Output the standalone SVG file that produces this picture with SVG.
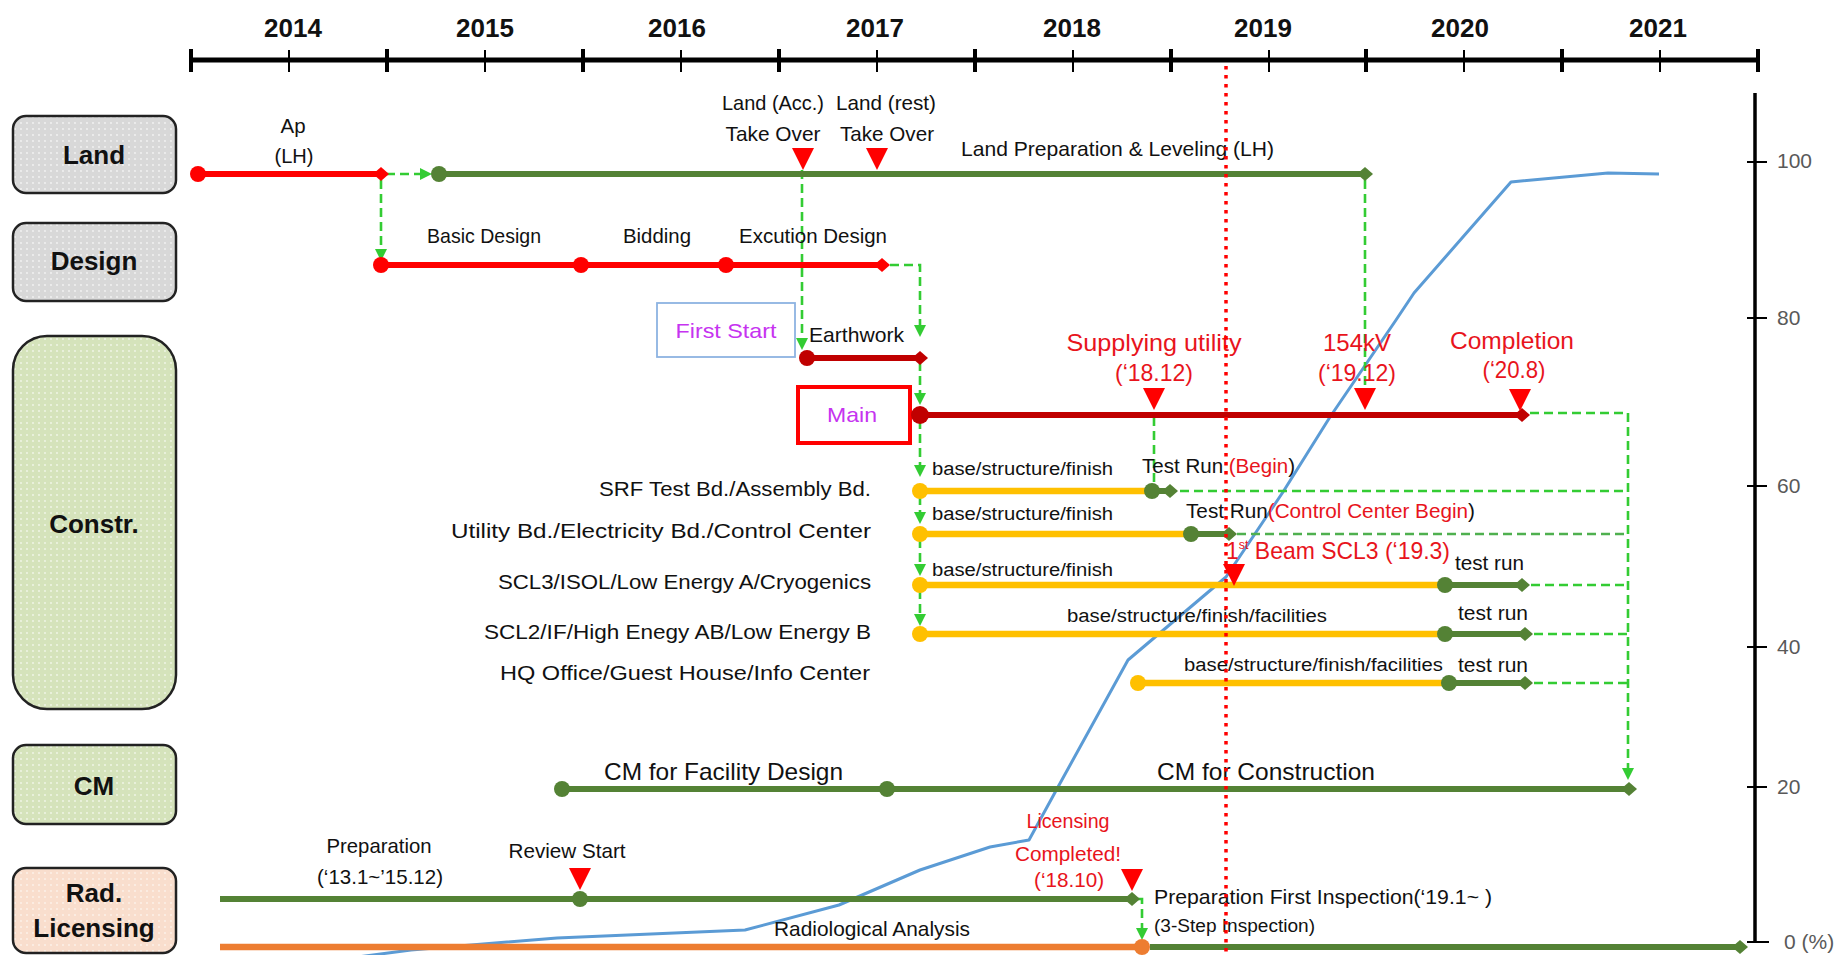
<svg xmlns="http://www.w3.org/2000/svg" width="1837" height="955" viewBox="0 0 1837 955">
<style>
text{font-family:"Liberation Sans",Arial,sans-serif;fill:#111}
.yr{font-size:26px;font-weight:bold;text-anchor:middle}
.cat{font-size:26px;font-weight:bold;text-anchor:middle}
.t{font-size:21px}
.s{font-size:18px}
.mid{text-anchor:middle}
.end{text-anchor:end}
.red{fill:#e8141c}
.mag{fill:#c633f0}
.ax{font-size:21px;fill:#595959}
.box{stroke:#222;stroke-width:2.5}
.dash{fill:none;stroke:#33cc33;stroke-width:2.6;stroke-dasharray:9 5}
.ah{fill:#33cc33}
.lr{stroke:#ff0000;stroke-width:6}
.ldr{stroke:#c00000;stroke-width:6}
.lg{stroke:#548235;stroke-width:6}
.ly{stroke:#ffc000;stroke-width:6.5}
.lo{stroke:#ed7d31;stroke-width:6.5}
.tri{fill:#ff0000}
</style>
<defs>
<pattern id="pGray" width="6" height="6" patternUnits="userSpaceOnUse"><rect width="6" height="6" fill="#d8d8d8"/><circle cx="3" cy="3" r="0.9" fill="#f4f4f4"/></pattern>
<pattern id="pGreen" width="6" height="6" patternUnits="userSpaceOnUse"><rect width="6" height="6" fill="#d5e3bb"/><circle cx="3" cy="3" r="0.9" fill="#f2f7ea"/></pattern>
<pattern id="pPeach" width="6" height="6" patternUnits="userSpaceOnUse"><rect width="6" height="6" fill="#f9decd"/><circle cx="3" cy="3" r="0.9" fill="#fdf3ec"/></pattern>
<polygon id="dia" points="-8,0 0,-7 8,0 0,7"/>
<polygon id="arrD" points="-6,-12 6,-12 0,0"/>
<polygon id="arrR" points="-12,-6 -12,6 0,0"/>
<polygon id="triD" points="-11,0 11,0 0,22"/>
</defs>
<rect width="1837" height="955" fill="#fff"/>

<!-- time axis -->
<g id="timeaxis" stroke="#000">
<line x1="191" y1="60" x2="1758" y2="60" stroke-width="5"/>
<g stroke-width="4">
<line x1="191" y1="49" x2="191" y2="72"/><line x1="387" y1="49" x2="387" y2="72"/><line x1="583" y1="49" x2="583" y2="72"/><line x1="779" y1="49" x2="779" y2="72"/><line x1="975" y1="49" x2="975" y2="72"/><line x1="1171" y1="49" x2="1171" y2="72"/><line x1="1366" y1="49" x2="1366" y2="72"/><line x1="1562" y1="49" x2="1562" y2="72"/><line x1="1758" y1="49" x2="1758" y2="72"/>
</g>
<g stroke-width="2">
<line x1="289" y1="50" x2="289" y2="72"/><line x1="485" y1="50" x2="485" y2="72"/><line x1="681" y1="50" x2="681" y2="72"/><line x1="877" y1="50" x2="877" y2="72"/><line x1="1073" y1="50" x2="1073" y2="72"/><line x1="1269" y1="50" x2="1269" y2="72"/><line x1="1464" y1="50" x2="1464" y2="72"/><line x1="1660" y1="50" x2="1660" y2="72"/>
</g>
</g>
<g id="years">
<text class="yr" x="293" y="37">2014</text><text class="yr" x="485" y="37">2015</text><text class="yr" x="677" y="37">2016</text><text class="yr" x="875" y="37">2017</text><text class="yr" x="1072" y="37">2018</text><text class="yr" x="1263" y="37">2019</text><text class="yr" x="1460" y="37">2020</text><text class="yr" x="1658" y="37">2021</text>
</g>

<!-- percent axis -->
<g id="percentaxis">
<line x1="1755" y1="93" x2="1755" y2="943" stroke="#000" stroke-width="3.5"/>
<g stroke="#000" stroke-width="2">
<line x1="1747" y1="162" x2="1767" y2="162"/><line x1="1747" y1="318" x2="1767" y2="318"/><line x1="1747" y1="486" x2="1767" y2="486"/><line x1="1747" y1="647" x2="1767" y2="647"/><line x1="1747" y1="787" x2="1767" y2="787"/><line x1="1747" y1="942" x2="1769" y2="942"/>
</g>
<text class="ax" x="1777" y="168">100</text><text class="ax" x="1777" y="325">80</text><text class="ax" x="1777" y="493">60</text><text class="ax" x="1777" y="654">40</text><text class="ax" x="1777" y="794">20</text><text class="ax" x="1784" y="949">0 (%)</text>
</g>

<!-- category nodes -->
<g id="node-land"><rect class="box" x="13" y="116" width="163" height="77" rx="13" fill="url(#pGray)"/><text class="cat" x="94" y="164">Land</text></g>
<g id="node-design"><rect class="box" x="13" y="223" width="163" height="78" rx="13" fill="url(#pGray)"/><text class="cat" x="94" y="270">Design</text></g>
<g id="node-constr"><rect class="box" x="13" y="336" width="163" height="373" rx="34" fill="url(#pGreen)"/><text class="cat" x="94" y="533">Constr.</text></g>
<g id="node-cm"><rect class="box" x="13" y="745" width="163" height="79" rx="13" fill="url(#pGreen)"/><text class="cat" x="94" y="795">CM</text></g>
<g id="node-rad"><rect class="box" x="13" y="868" width="163" height="85" rx="13" fill="url(#pPeach)"/><text class="cat" x="94" y="902">Rad.</text><text class="cat" x="94" y="937">Licensing</text></g>

<!-- progress curve -->
<polyline id="progress" fill="none" stroke="#5b9bd5" stroke-width="3" stroke-linejoin="round" points="350,958 411,950 557,938 745,930 839,905 920,870 990,847 1029,840 1058,787 1128,660 1226,577 1283,492 1330,417 1396,320 1414,293 1511,182 1608,173 1659,174"/>

<!-- connectors -->
<g id="connectors">
<line class="dash" x1="386" y1="174" x2="420" y2="174"/><use href="#arrR" x="432" y="174" class="ah"/>
<line class="dash" x1="381" y1="180" x2="381" y2="250"/><use href="#arrD" x="381" y="261" class="ah"/>
<line class="dash" x1="802" y1="170" x2="802" y2="340"/><use href="#arrD" x="802" y="350" class="ah"/>
<polyline class="dash" points="890,265 920,265 920,326"/><use href="#arrD" x="920" y="337" class="ah"/>
<line class="dash" x1="920" y1="362" x2="920" y2="394"/><use href="#arrD" x="920" y="405" class="ah"/>
<line class="dash" x1="920" y1="420" x2="920" y2="466"/><use href="#arrD" x="920" y="477" class="ah"/>
<line class="dash" x1="920" y1="496" x2="920" y2="513"/><use href="#arrD" x="920" y="524" class="ah"/>
<line class="dash" x1="920" y1="539" x2="920" y2="565"/><use href="#arrD" x="920" y="576" class="ah"/>
<line class="dash" x1="920" y1="590" x2="920" y2="615"/><use href="#arrD" x="920" y="626" class="ah"/>
<line class="dash" x1="1154" y1="417" x2="1154" y2="484"/>
<line class="dash" x1="1365" y1="180" x2="1365" y2="392"/>
<polyline class="dash" points="1530,413 1628,413 1628,768"/><use href="#arrD" x="1628" y="780" class="ah"/>
<line class="dash" x1="1180" y1="491" x2="1628" y2="491"/>
<line class="dash" x1="1237" y1="534" x2="1628" y2="534" style="stroke:#4fb04f"/>
<line class="dash" x1="1531" y1="585" x2="1628" y2="585"/>
<line class="dash" x1="1534" y1="634" x2="1628" y2="634"/>
<line class="dash" x1="1534" y1="683" x2="1628" y2="683"/>
<polyline class="dash" points="1138,899 1142,899 1142,929"/><use href="#arrD" x="1142" y="940" class="ah"/>
</g>

<!-- Land row -->
<g id="row-land">
<line class="lr" x1="198" y1="174" x2="381" y2="174"/><circle cx="198" cy="174" r="8" fill="#ff0000"/><use href="#dia" x="381" y="174" fill="#ff0000"/>
<line class="lg" x1="439" y1="174" x2="1365" y2="174"/><circle cx="439" cy="174" r="8" fill="#548235"/><use href="#dia" x="1365" y="174" fill="#548235"/>
<use href="#triD" x="803" y="148" class="tri"/><use href="#triD" x="877" y="148" class="tri"/>
<text class="t mid" x="293" y="133" textLength="25" lengthAdjust="spacingAndGlyphs">Ap</text>
<text class="t mid" x="294" y="163" textLength="39" lengthAdjust="spacingAndGlyphs">(LH)</text>
<text class="t mid" x="773" y="110" textLength="102" lengthAdjust="spacingAndGlyphs">Land (Acc.)</text>
<text class="t mid" x="773" y="141" textLength="95" lengthAdjust="spacingAndGlyphs">Take Over</text>
<text class="t mid" x="886" y="110" textLength="100" lengthAdjust="spacingAndGlyphs">Land (rest)</text>
<text class="t mid" x="887" y="141" textLength="94" lengthAdjust="spacingAndGlyphs">Take Over</text>
<text class="t" x="961" y="156" textLength="313" lengthAdjust="spacingAndGlyphs">Land Preparation &amp; Leveling (LH)</text>
</g>

<!-- Design row -->
<g id="row-design">
<line class="lr" x1="381" y1="265" x2="882" y2="265"/>
<circle cx="381" cy="265" r="8" fill="#ff0000"/><circle cx="581" cy="265" r="8" fill="#ff0000"/><circle cx="726" cy="265" r="8" fill="#ff0000"/><use href="#dia" x="882" y="265" fill="#ff0000"/>
<text class="t mid" x="484" y="243" textLength="114" lengthAdjust="spacingAndGlyphs">Basic Design</text>
<text class="t mid" x="657" y="243" textLength="68" lengthAdjust="spacingAndGlyphs">Bidding</text>
<text class="t mid" x="813" y="243" textLength="148" lengthAdjust="spacingAndGlyphs">Excution Design</text>
</g>

<!-- Construction rows -->
<g id="node-firststart"><rect x="657" y="303" width="138" height="54" fill="#fff" stroke="#8db3e2" stroke-width="1.8"/><text class="t mid mag" x="726" y="338" textLength="101" lengthAdjust="spacingAndGlyphs">First Start</text></g>
<g id="row-earthwork">
<line class="ldr" x1="807" y1="358" x2="916" y2="358"/><circle cx="807" cy="358" r="8" fill="#c00000"/><use href="#dia" x="920" y="358" fill="#c00000"/>
<text class="t" x="809" y="342" textLength="95" lengthAdjust="spacingAndGlyphs">Earthwork</text>
</g>
<g id="node-main"><rect x="798" y="387" width="112" height="56" fill="#fff" stroke="#ff0000" stroke-width="4"/><text class="t mid mag" x="852" y="422" textLength="50" lengthAdjust="spacingAndGlyphs">Main</text></g>
<g id="row-main">
<line class="ldr" x1="920" y1="415" x2="1520" y2="415"/><circle cx="920" cy="415" r="9" fill="#c00000"/><use href="#dia" x="1522" y="415" fill="#c00000"/>
<use href="#triD" x="1154" y="388" class="tri"/><use href="#triD" x="1365" y="388" class="tri"/><use href="#triD" x="1520" y="389" class="tri"/>
<text class="red mid" style="font-size:24px" x="1154" y="351" textLength="175" lengthAdjust="spacingAndGlyphs">Supplying utility</text>
<text class="red mid" style="font-size:24px" x="1154" y="381" textLength="78" lengthAdjust="spacingAndGlyphs">(‘18.12)</text>
<text class="red mid" style="font-size:24px" x="1357" y="351" textLength="68" lengthAdjust="spacingAndGlyphs">154kV</text>
<text class="red mid" style="font-size:24px" x="1357" y="381" textLength="78" lengthAdjust="spacingAndGlyphs">(‘19.12)</text>
<text class="red mid" style="font-size:24px" x="1512" y="349" textLength="124" lengthAdjust="spacingAndGlyphs">Completion</text>
<text class="red mid" style="font-size:24px" x="1514" y="378" textLength="63" lengthAdjust="spacingAndGlyphs">(‘20.8)</text>
</g>

<g id="row-srf">
<text class="t end" x="871" y="496" textLength="272" lengthAdjust="spacingAndGlyphs">SRF Test Bd./Assembly Bd.</text>
<line class="ly" x1="920" y1="491" x2="1152" y2="491"/><circle cx="920" cy="491" r="8" fill="#ffc000"/>
<line class="lg" x1="1152" y1="491" x2="1168" y2="491"/><circle cx="1152" cy="491" r="8" fill="#548235"/><use href="#dia" x="1170" y="491" fill="#548235"/>
<text class="s" x="932" y="475" textLength="181" lengthAdjust="spacingAndGlyphs">base/structure/finish</text>
<text class="t" x="1142" y="473" textLength="153" lengthAdjust="spacingAndGlyphs">Test Run <tspan class="red">(Begin</tspan>)</text>
</g>
<g id="row-utility">
<text class="t end" x="871" y="538" textLength="420" lengthAdjust="spacingAndGlyphs">Utility Bd./Electricity  Bd./Control Center</text>
<line class="ly" x1="920" y1="534" x2="1191" y2="534"/><circle cx="920" cy="534" r="8" fill="#ffc000"/>
<line class="lg" x1="1191" y1="534" x2="1226" y2="534"/><circle cx="1191" cy="534" r="8" fill="#548235"/><use href="#dia" x="1229" y="534" fill="#548235"/>
<text class="s" x="932" y="520" textLength="181" lengthAdjust="spacingAndGlyphs">base/structure/finish</text>
<text class="t" x="1186" y="518" textLength="289" lengthAdjust="spacingAndGlyphs">Test Run<tspan class="red">(Control  Center Begin</tspan>)</text>
</g>
<g id="row-scl3">
<text class="t end" x="871" y="589" textLength="373" lengthAdjust="spacingAndGlyphs">SCL3/ISOL/Low Energy A/Cryogenics</text>
<line class="ly" x1="920" y1="585" x2="1445" y2="585"/><circle cx="920" cy="585" r="8" fill="#ffc000"/>
<line class="lg" x1="1445" y1="585" x2="1518" y2="585"/><circle cx="1445" cy="585" r="8" fill="#548235"/><use href="#dia" x="1522" y="585" fill="#548235"/>
<text class="s" x="932" y="576" textLength="181" lengthAdjust="spacingAndGlyphs">base/structure/finish</text>
<use href="#triD" x="1234" y="564" class="tri"/>
<text class="red" style="font-size:24px" x="1226" y="559" textLength="224" lengthAdjust="spacingAndGlyphs">1<tspan style="font-size:13px" dy="-10">st</tspan><tspan dy="10"> Beam SCL3 (‘19.3)</tspan></text>
<text class="t" x="1455" y="570" textLength="69" lengthAdjust="spacingAndGlyphs">test run</text>
</g>
<g id="row-scl2">
<text class="t end" x="871" y="639" textLength="387" lengthAdjust="spacingAndGlyphs">SCL2/IF/High Enegy AB/Low Energy B</text>
<line class="ly" x1="920" y1="634" x2="1445" y2="634"/><circle cx="920" cy="634" r="8" fill="#ffc000"/>
<line class="lg" x1="1445" y1="634" x2="1521" y2="634"/><circle cx="1445" cy="634" r="8" fill="#548235"/><use href="#dia" x="1525" y="634" fill="#548235"/>
<text class="s" x="1067" y="622" textLength="260" lengthAdjust="spacingAndGlyphs">base/structure/finish/facilities</text>
<text class="t" x="1458" y="620" textLength="70" lengthAdjust="spacingAndGlyphs">test run</text>
</g>
<g id="row-hq">
<text class="t end" x="870" y="680" textLength="370" lengthAdjust="spacingAndGlyphs">HQ Office/Guest House/Info Center</text>
<line class="ly" x1="1138" y1="683" x2="1449" y2="683"/><circle cx="1138" cy="683" r="8" fill="#ffc000"/>
<line class="lg" x1="1449" y1="683" x2="1521" y2="683"/><circle cx="1449" cy="683" r="8" fill="#548235"/><use href="#dia" x="1525" y="683" fill="#548235"/>
<text class="s" x="1184" y="671" textLength="259" lengthAdjust="spacingAndGlyphs">base/structure/finish/facilities</text>
<text class="t" x="1458" y="672" textLength="70" lengthAdjust="spacingAndGlyphs">test run</text>
</g>

<!-- CM row -->
<g id="row-cm">
<line class="lg" x1="562" y1="789" x2="1625" y2="789"/><circle cx="562" cy="789" r="8" fill="#548235"/><circle cx="887" cy="789" r="8" fill="#548235"/><use href="#dia" x="1629" y="789" fill="#548235"/>
<text style="font-size:24px" x="604" y="780" textLength="239" lengthAdjust="spacingAndGlyphs">CM for Facility Design</text>
<text style="font-size:24px" x="1157" y="780" textLength="218" lengthAdjust="spacingAndGlyphs">CM for  Construction</text>
</g>

<!-- Rad licensing rows -->
<g id="row-rad">
<line class="lg" x1="220" y1="899" x2="1129" y2="899"/><circle cx="580" cy="899" r="8" fill="#548235"/><use href="#dia" x="1132" y="899" fill="#548235"/>
<use href="#triD" x="580" y="868" class="tri"/><use href="#triD" x="1132" y="869" class="tri"/>
<line class="lo" x1="220" y1="947" x2="1142" y2="947"/><circle cx="1142" cy="947" r="8" fill="#ed7d31"/>
<line class="lg" x1="1150" y1="947" x2="1736" y2="947"/><use href="#dia" x="1740" y="947" fill="#548235"/>
<text class="t mid" x="379" y="853" textLength="105" lengthAdjust="spacingAndGlyphs">Preparation</text>
<text class="t mid" x="380" y="884" textLength="126" lengthAdjust="spacingAndGlyphs">(‘13.1~’15.12)</text>
<text class="t mid" x="567" y="858" textLength="117" lengthAdjust="spacingAndGlyphs">Review Start</text>
<text class="t mid red" x="1068" y="828" textLength="83" lengthAdjust="spacingAndGlyphs">Licensing</text>
<text class="t mid red" x="1068" y="861" textLength="106" lengthAdjust="spacingAndGlyphs">Completed!</text>
<text class="t mid red" x="1069" y="887" textLength="70" lengthAdjust="spacingAndGlyphs">(‘18.10)</text>
<text class="t" x="1154" y="904" textLength="338" lengthAdjust="spacingAndGlyphs">Preparation  First Inspection(‘19.1~  )</text>
<text class="s" x="1154" y="932" textLength="161" lengthAdjust="spacingAndGlyphs">(3-Step Inspection)</text>
<text class="t" x="774" y="936" textLength="196" lengthAdjust="spacingAndGlyphs">Radiological Analysis</text>
</g>

<!-- today line -->
<line id="today" x1="1226" y1="66" x2="1226" y2="955" stroke="#ff0000" stroke-width="3.5" stroke-dasharray="3.5 5.5"/>
</svg>
